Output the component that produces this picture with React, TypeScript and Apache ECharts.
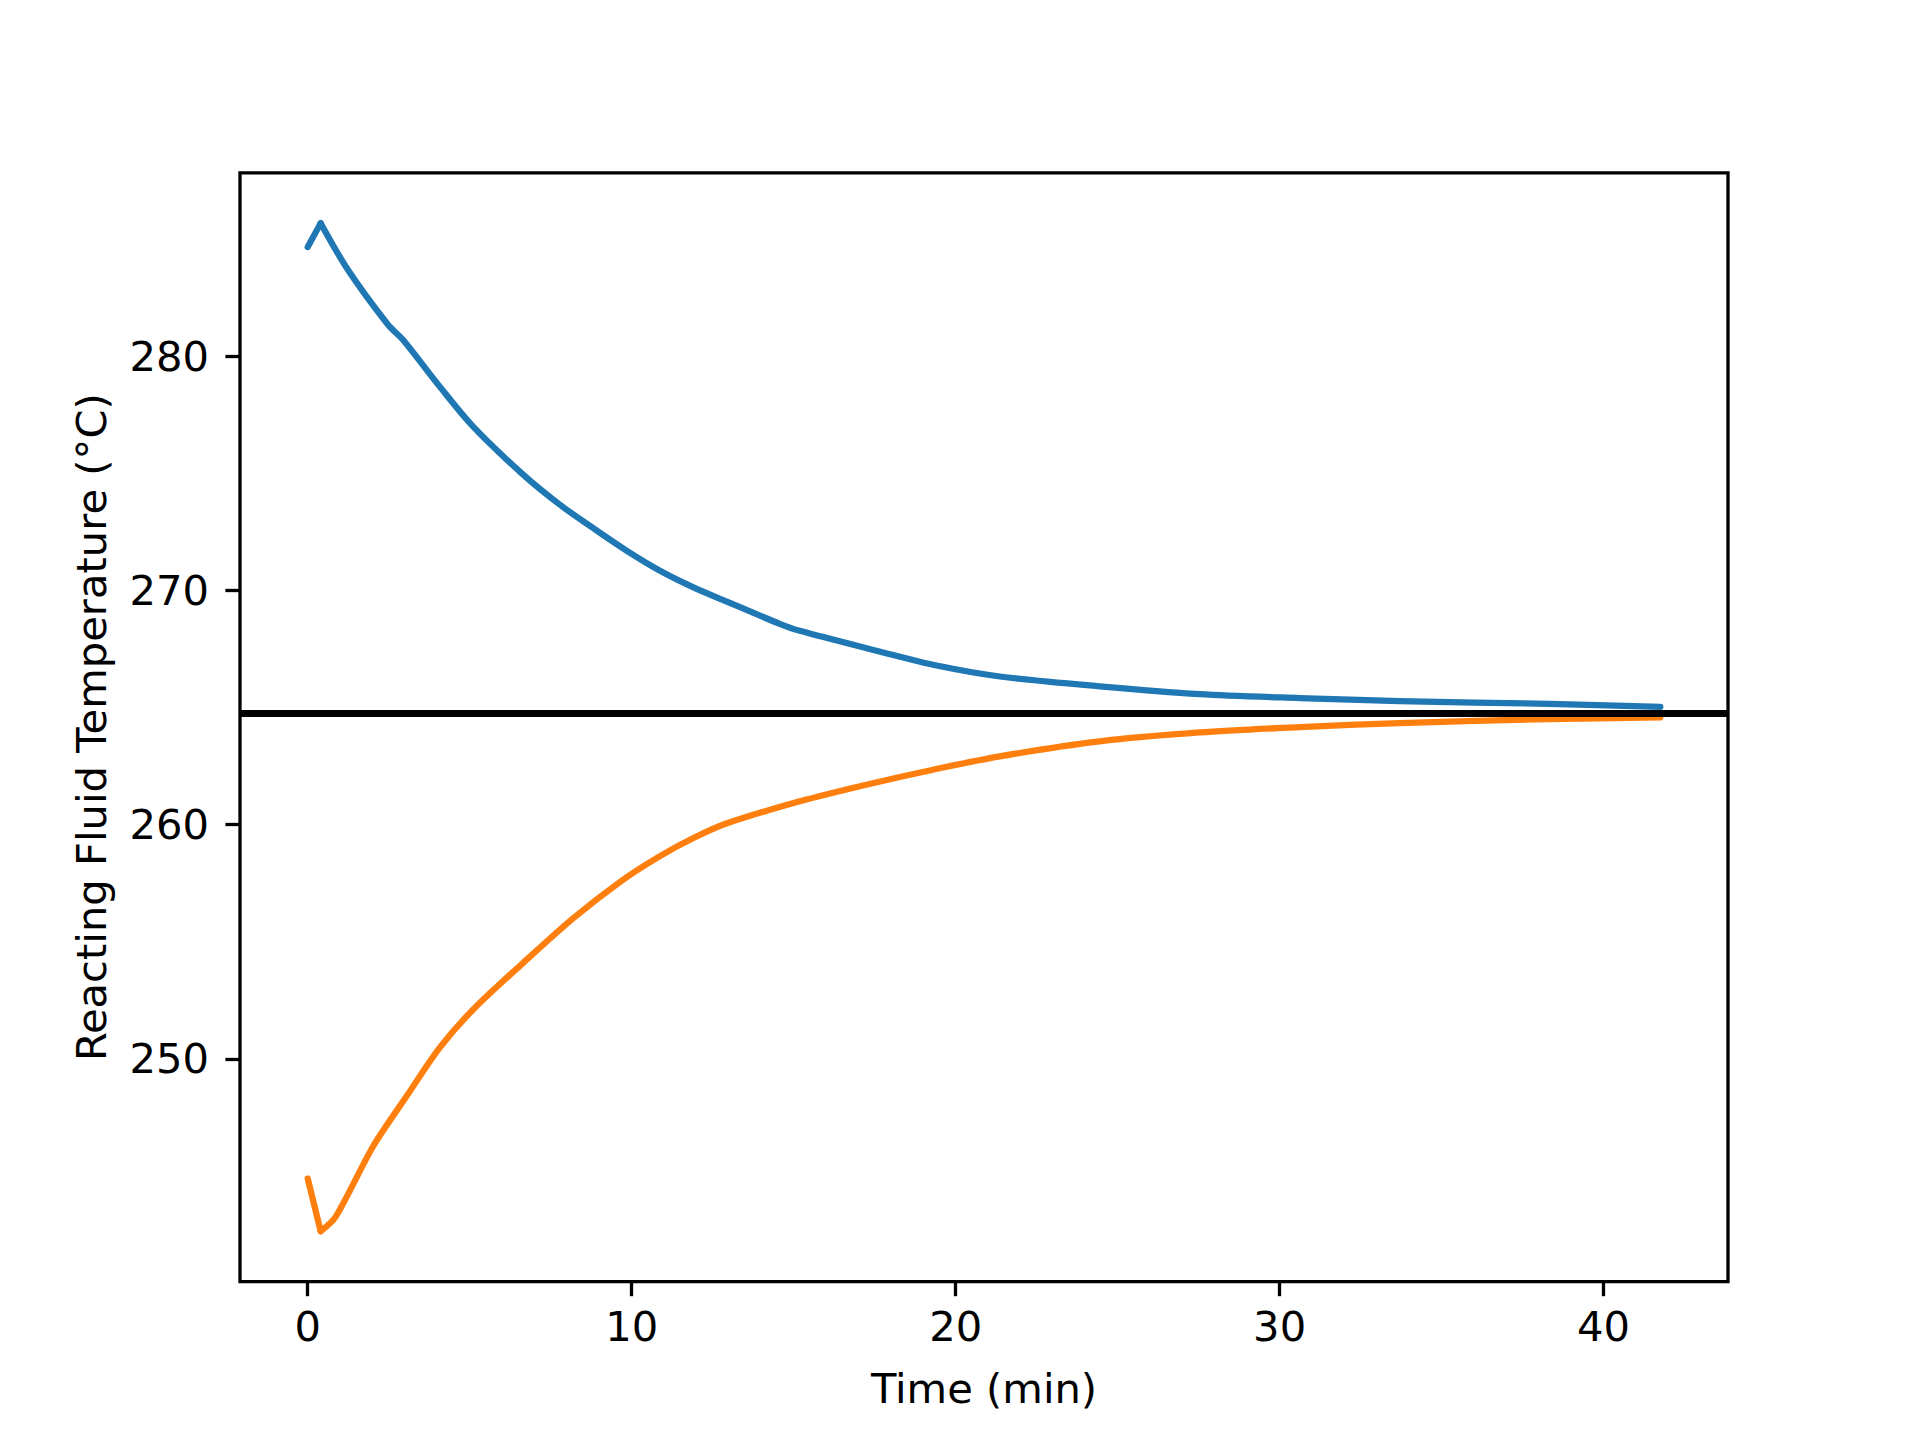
import React, { useEffect, useRef } from "react";
import * as echarts from "echarts";

// Time (min) and reacting fluid temperature (°C)
const timeBlue = [0, 0.4, 1.24, 2.48, 2.94, 4.07, 5.1, 6.65, 7.78, 8.81, 9.84, 10.86, 11.89, 12.92, 14.57, 15.19, 17.65, 19.3, 21.36, 24.44, 27.53, 30.62, 33.7, 38.33, 41.75];
const tempBlue = [284.67, 285.69, 283.7, 281.35, 280.71, 278.72, 277.01, 274.95, 273.67, 272.67, 271.71, 270.86, 270.15, 269.54, 268.58, 268.28, 267.4, 266.83, 266.33, 265.91, 265.58, 265.41, 265.28, 265.16, 265.03];

const timeOrange = [0, 0.4, 0.86, 2.02, 3.05, 4.07, 5.1, 6.65, 8.19, 9.68, 10.86, 11.89, 12.92, 15.19, 17.24, 19.3, 21.36, 24.44, 27.53, 30.62, 33.7, 38.33, 41.75];
const tempOrange = [244.89, 242.64, 243.25, 246.27, 248.4, 250.47, 252.1, 254.1, 256.0, 257.6, 258.65, 259.42, 260.05, 261.0, 261.71, 262.35, 262.92, 263.56, 263.94, 264.17, 264.34, 264.51, 264.58];

const setpoint = 264.78;

const xTicks = [0, 10, 20, 30, 40];
const yTicks = [250, 260, 270, 280];

const xRange = [-2.09, 43.84];
const yRange = [240.49, 287.84];

const FONT = "'DejaVu Sans', sans-serif";
const BLUE = "#1f77b4";
const ORANGE = "#ff7f0e";

export default function App() {
  const ref = useRef<HTMLDivElement>(null);

  useEffect(() => {
    document.body.style.margin = "0";
    if (!ref.current) return;
    const chart = echarts.init(ref.current, undefined, { renderer: "svg" });

    const blueData = timeBlue.map((t, i) => [t, tempBlue[i]]);
    const orangeData = timeOrange.map((t, i) => [t, tempOrange[i]]);

    const lineSeries = (data: number[][], color: string, smooth: number | boolean, z: number) => ({
      type: "line",
      data,
      showSymbol: false,
      symbol: "none",
      smooth,
      lineStyle: { color, width: 6.25, cap: "round", join: "round" },
      z,
    });

    chart.setOption({
      animation: false,
      backgroundColor: "#ffffff",
      grid: {
        left: 240,
        right: 192,
        top: 172.8,
        bottom: 158.4,
        show: true,
        borderColor: "#000000",
        borderWidth: 3.3,
        backgroundColor: "transparent",
      },
      xAxis: {
        type: "value",
        min: xRange[0],
        max: xRange[1],
        name: "Time (min)",
        nameLocation: "middle",
        nameGap: 86,
        nameTextStyle: { fontFamily: FONT, fontSize: 41.67, color: "#000" },
        axisLine: { show: false, onZero: false },
        splitLine: { show: false },
        axisTick: {
          show: true,
          inside: false,
          length: 14.6,
          customValues: xTicks,
          lineStyle: { color: "#000", width: 3.3 },
        },
        axisLabel: {
          customValues: xTicks,
          fontFamily: FONT,
          fontSize: 41.67,
          color: "#000",
          margin: 24,
        },
      },
      yAxis: {
        type: "value",
        min: yRange[0],
        max: yRange[1],
        name: "Reacting Fluid Temperature (°C)",
        nameLocation: "middle",
        nameRotate: 90,
        nameGap: 128,
        nameTextStyle: { fontFamily: FONT, fontSize: 41.67, color: "#000" },
        axisLine: { show: false, onZero: false },
        splitLine: { show: false },
        axisTick: {
          show: true,
          inside: false,
          length: 14.6,
          customValues: yTicks,
          lineStyle: { color: "#000", width: 3.3 },
        },
        axisLabel: {
          customValues: yTicks,
          fontFamily: FONT,
          fontSize: 41.67,
          color: "#000",
          margin: 31,
        },
      },
      series: [
        // initial jump (sharp corner kept at the extremum)
        lineSeries(blueData.slice(0, 2), BLUE, false, 2),
        lineSeries(blueData.slice(1), BLUE, 0.3, 2),
        lineSeries(orangeData.slice(0, 2), ORANGE, false, 3),
        lineSeries(orangeData.slice(1), ORANGE, 0.3, 3),
        {
          type: "line",
          data: [],
          z: 4,
          markLine: {
            silent: true,
            symbol: ["none", "none"],
            label: { show: false },
            lineStyle: { color: "#000000", width: 7, type: "solid" },
            data: [{ yAxis: setpoint }],
          },
        },
      ],
    });

    return () => chart.dispose();
  }, []);

  return <div ref={ref} style={{ width: 1920, height: 1440 }} />;
}
